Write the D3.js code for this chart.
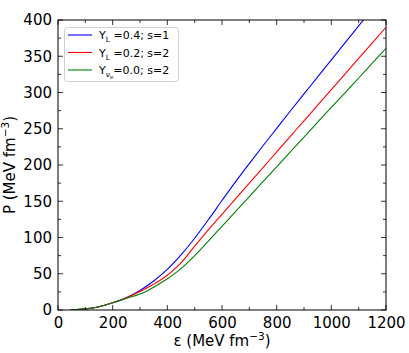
<!DOCTYPE html>
<html><head><meta charset="utf-8">
<script src="https://cdn.jsdelivr.net/npm/d3@7"></script>
<style>body{margin:0;background:#fff}svg{display:block}text{font-family:"DejaVu Sans",sans-serif}</style>
</head><body><svg id="c" width="409" height="353"></svg>
<script>
const xTicks = [0,200,400,600,800,1000,1200];
const yTicks = [0,50,100,150,200,250,300,350,400];
const epsBlue = [45,50,100,150,200,250,300,350,400,450,500,550,600,650,700,750,800,850,900,950,1000,1050,1100,1150];
const pBlue   = [0,0.1,1.5,4.5,10,17,27,40,56,76,99,124.5,151,177,202,226.5,250.5,274.5,298,321.5,345,368.5,392,415.5];
const epsRed = [45,50,100,150,200,250,300,350,400,450,500,550,600,650,700,750,800,850,900,950,1000,1050,1100,1150,1200];
const pRed   = [0,0.1,1.5,4.5,10,17,25.5,35.5,48,65,88,110.5,132,153.5,175,196.5,218,239.5,261,282.5,304,325.5,347,368.5,390];
const epsGreen = [45,50,100,150,200,250,300,350,400,450,500,550,600,650,700,750,800,850,900,950,1000,1050,1100,1150,1200];
const pGreen   = [0,0.1,1.5,4.5,10,16,22,31.5,43,57,75,95,115.5,136,156.5,177,197.5,218,238.5,259,279.5,299.5,320,340.5,361];
const series = [
  {name:"L", val:"=0.4; s=1", color:"#0000ff", eps:epsBlue, p:pBlue},
  {name:"L", val:"=0.2; s=2", color:"#ff0000", eps:epsRed, p:pRed},
  {name:"nue", val:"=0.0; s=2", color:"#008000", eps:epsGreen, p:pGreen}
];
const svg = d3.select("#c");
const L=58, R=386, T=20, B=310;
const x = d3.scaleLinear().domain([0,1200]).range([L,R]);
const y = d3.scaleLinear().domain([0,400]).range([B,T]);
const defs = svg.append("defs");
defs.append("clipPath").attr("id","clip").append("rect").attr("x",L).attr("y",T).attr("width",R-L).attr("height",B-T);
const line = d3.line().x(d=>x(d[0])).y(d=>y(d[1])).curve(d3.curveMonotoneX);
const g = svg.append("g").attr("clip-path","url(#clip)");
series.forEach(s=>{
  g.append("path").datum(s.eps.map((e,i)=>[e,s.p[i]])).attr("d",line)
   .attr("fill","none").attr("stroke",s.color).attr("stroke-width",1.1);
});
// ticks inward on all sides
const xMinor = d3.range(0,1201,100), yMinor = d3.range(0,401,25);
const tg = svg.append("g").attr("stroke","#000").attr("stroke-width",0.8);
xMinor.forEach(v=>{const len = xTicks.includes(v)?5:3;
  tg.append("line").attr("x1",x(v)).attr("x2",x(v)).attr("y1",B).attr("y2",B-len);
  tg.append("line").attr("x1",x(v)).attr("x2",x(v)).attr("y1",T).attr("y2",T+len);});
yMinor.forEach(v=>{const len = yTicks.includes(v)?5:3;
  tg.append("line").attr("y1",y(v)).attr("y2",y(v)).attr("x1",L).attr("x2",L+len);
  tg.append("line").attr("y1",y(v)).attr("y2",y(v)).attr("x1",R).attr("x2",R-len);});
svg.append("rect").attr("x",L).attr("y",T).attr("width",R-L).attr("height",B-T)
  .attr("fill","none").attr("stroke","#000").attr("stroke-width",1);
// tick labels via axes
const xa = svg.append("g").attr("transform",`translate(0,${B})`)
  .call(d3.axisBottom(x).tickValues(xTicks).tickSize(0).tickPadding(7).tickFormat(d3.format("d")));
xa.select(".domain").remove();
xa.selectAll("text").attr("font-size",15).attr("fill","#000").attr("font-family","DejaVu Sans");
const ya = svg.append("g").attr("transform",`translate(${L},0)`)
  .call(d3.axisLeft(y).tickValues(yTicks).tickSize(0).tickPadding(6).tickFormat(d3.format("d")));
ya.select(".domain").remove();
ya.selectAll("text").attr("font-size",15).attr("fill","#000").attr("font-family","DejaVu Sans");
// axis titles
const xt = svg.append("text").attr("x",(L+R)/2).attr("y",346).attr("text-anchor","middle").attr("font-size",15);
xt.append("tspan").text("ε (MeV fm");
xt.append("tspan").attr("dy",-6).attr("font-size",10.5).text("−3");
xt.append("tspan").attr("dy",6).text(")");
const yt = svg.append("text").attr("transform",`translate(15,${(T+B)/2}) rotate(-90)`).attr("text-anchor","middle").attr("font-size",15);
yt.append("tspan").text("P (MeV fm");
yt.append("tspan").attr("dy",-6).attr("font-size",10.5).text("−3");
yt.append("tspan").attr("dy",6).text(")");
// legend
const lg = svg.append("g");
lg.append("rect").attr("x",64.5).attr("y",27.5).attr("width",114).attr("height",54).attr("rx",3)
  .attr("fill","#fff").attr("fill-opacity",0.8).attr("stroke","#d0d0d0").attr("stroke-width",1);
series.forEach((s,i)=>{
  const yy = 35 + i*17.5;
  lg.append("line").attr("x1",68).attr("x2",92).attr("y1",yy).attr("y2",yy).attr("stroke",s.color).attr("stroke-width",1.1);
  const t = lg.append("text").attr("x",99).attr("y",yy+4).attr("font-size",11);
  t.append("tspan").text("Y");
  if(s.name==="L"){
    t.append("tspan").attr("dy",3).attr("font-size",7.5).text("L");
    t.append("tspan").attr("dy",-3).text(" "+s.val);
  } else {
    t.append("tspan").attr("dy",3).attr("font-size",7.5).text("ν");
    t.append("tspan").attr("dy",1.5).attr("font-size",5.5).text("e");
    t.append("tspan").attr("dy",-4.5).text(s.val);
  }
});
</script></body></html>
